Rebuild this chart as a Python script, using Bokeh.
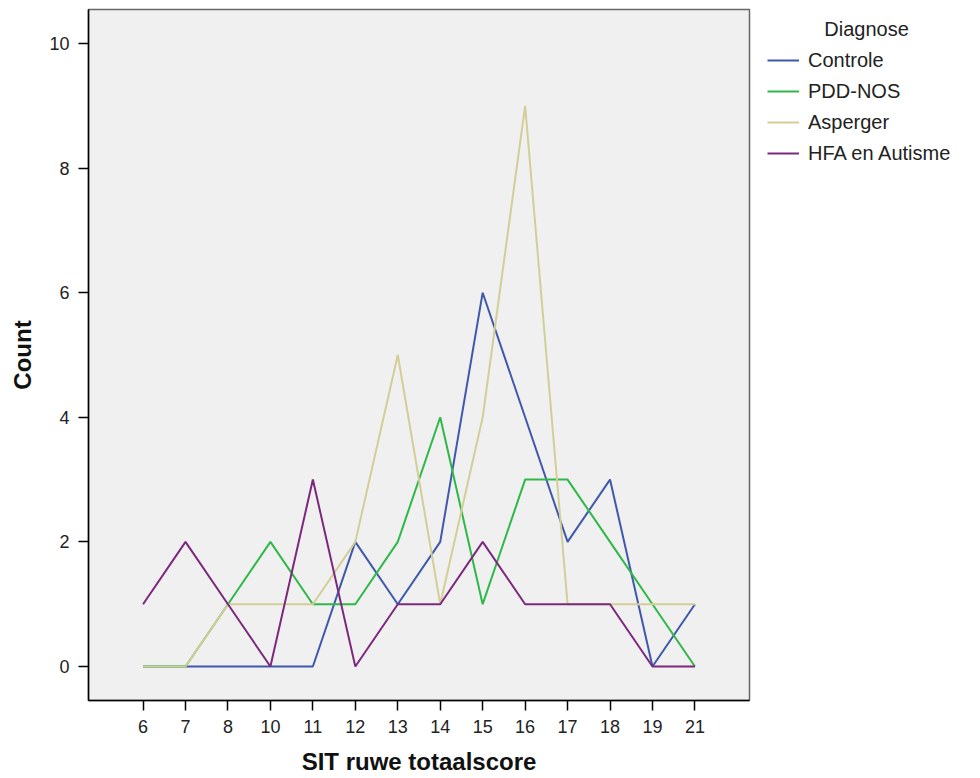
from bokeh.plotting import figure
from bokeh.models import FactorRange, Range1d, Legend, LegendItem, Label
from bokeh.layouts import row
from bokeh.embed import file_html
from bokeh.resources import INLINE

# ---- data ----
scores = ["6", "7", "8", "10", "11", "12", "13", "14", "15", "16", "17", "18", "19", "21"]
controle = [0, 0, 0, 0, 0, 2, 1, 2, 6, 4, 2, 3, 0, 1]
pdd_nos = [0, 0, 1, 2, 1, 1, 2, 4, 1, 3, 3, 2, 1, 0]
asperger = [0, 0, 1, 1, 1, 2, 5, 1, 4, 9, 1, 1, 1, 1]
hfa_autisme = [1, 2, 1, 0, 3, 0, 1, 1, 2, 1, 1, 1, 0, 0]
series_names = ["Controle", "PDD-NOS", "Asperger", "HFA en Autisme"]
series_values = [controle, pdd_nos, asperger, hfa_autisme]
colors = ["#3E58AC", "#2EB848", "#D3CE97", "#7C287D"]
y_ticks = [0, 2, 4, 6, 8, 10]
legend_title = "Diagnose"
x_title = "SIT ruwe totaalscore"
y_title = "Count"

FONT = "Liberation Sans"

# ---- main chart ----
p = figure(
    x_range=FactorRange(factors=scores, range_padding=0.785, range_padding_units="absolute"),
    y_range=Range1d(-0.546, 10.546),
    width=752, height=778,
    output_backend="svg", toolbar_location=None,
    min_border_left=88, min_border_right=3, min_border_top=9, min_border_bottom=78,
    background_fill_color="#F0F0F0", border_fill_color="white",
    outline_line_color="#666666", outline_line_width=1.5,
)

for name, vals, c in zip(series_names, series_values, colors):
    p.line(x=scores, y=vals, line_color=c, line_width=2)

p.xgrid.visible = False
p.ygrid.visible = False

for ax in (p.xaxis, p.yaxis):
    ax.axis_line_color = "black"
    ax.axis_line_width = 1.5
    ax.major_tick_line_color = "black"
    ax.major_tick_line_width = 1.5
    ax.major_tick_in = 0
    ax.major_tick_out = 10
    ax.minor_tick_line_color = None
    ax.major_label_text_font = FONT
    ax.major_label_text_font_size = "18px"
    ax.major_label_text_color = "#222222"
    ax.major_label_standoff = 9
    ax.axis_label_text_font = FONT
    ax.axis_label_text_font_size = "24px"
    ax.axis_label_text_font_style = "bold"
    ax.axis_label_text_color = "#111111"

p.yaxis.ticker = y_ticks
p.xaxis.axis_label = x_title
p.yaxis.axis_label = y_title
p.xaxis.axis_label_standoff = 12
p.yaxis.axis_label_standoff = 10

# ---- legend panel (same series, drawn outside its visible range) ----
q = figure(
    x_range=FactorRange(factors=scores), y_range=Range1d(100, 101),
    width=228, height=778,
    output_backend="svg", toolbar_location=None,
    x_axis_location=None, y_axis_location=None,
    min_border_left=0, min_border_right=0, min_border_top=0, min_border_bottom=0,
    background_fill_color="white", border_fill_color="white", outline_line_color=None,
)
q.xgrid.visible = False
q.ygrid.visible = False

items = []
for name, vals, c in zip(series_names, series_values, colors):
    r = q.line(x=scores, y=vals, line_color=c, line_width=2)
    items.append(LegendItem(label=name, renderers=[r]))

legend = Legend(
    items=items, location=(15, 533),
    padding=0, margin=0, spacing=3,
    label_height=28, glyph_height=28, glyph_width=32, label_standoff=9,
    label_text_font=FONT, label_text_font_size="20px", label_text_color="#222222",
    border_line_alpha=0, background_fill_alpha=0,
)
q.add_layout(legend)

q.add_layout(Label(
    x=114, y=672, x_units="screen", y_units="screen", text=legend_title,
    text_align="center", text_baseline="middle",
    text_font=FONT, text_font_size="20px", text_color="#222222",
))

layout = row(p, q)
open("out.html", "w").write(file_html(layout, INLINE))
